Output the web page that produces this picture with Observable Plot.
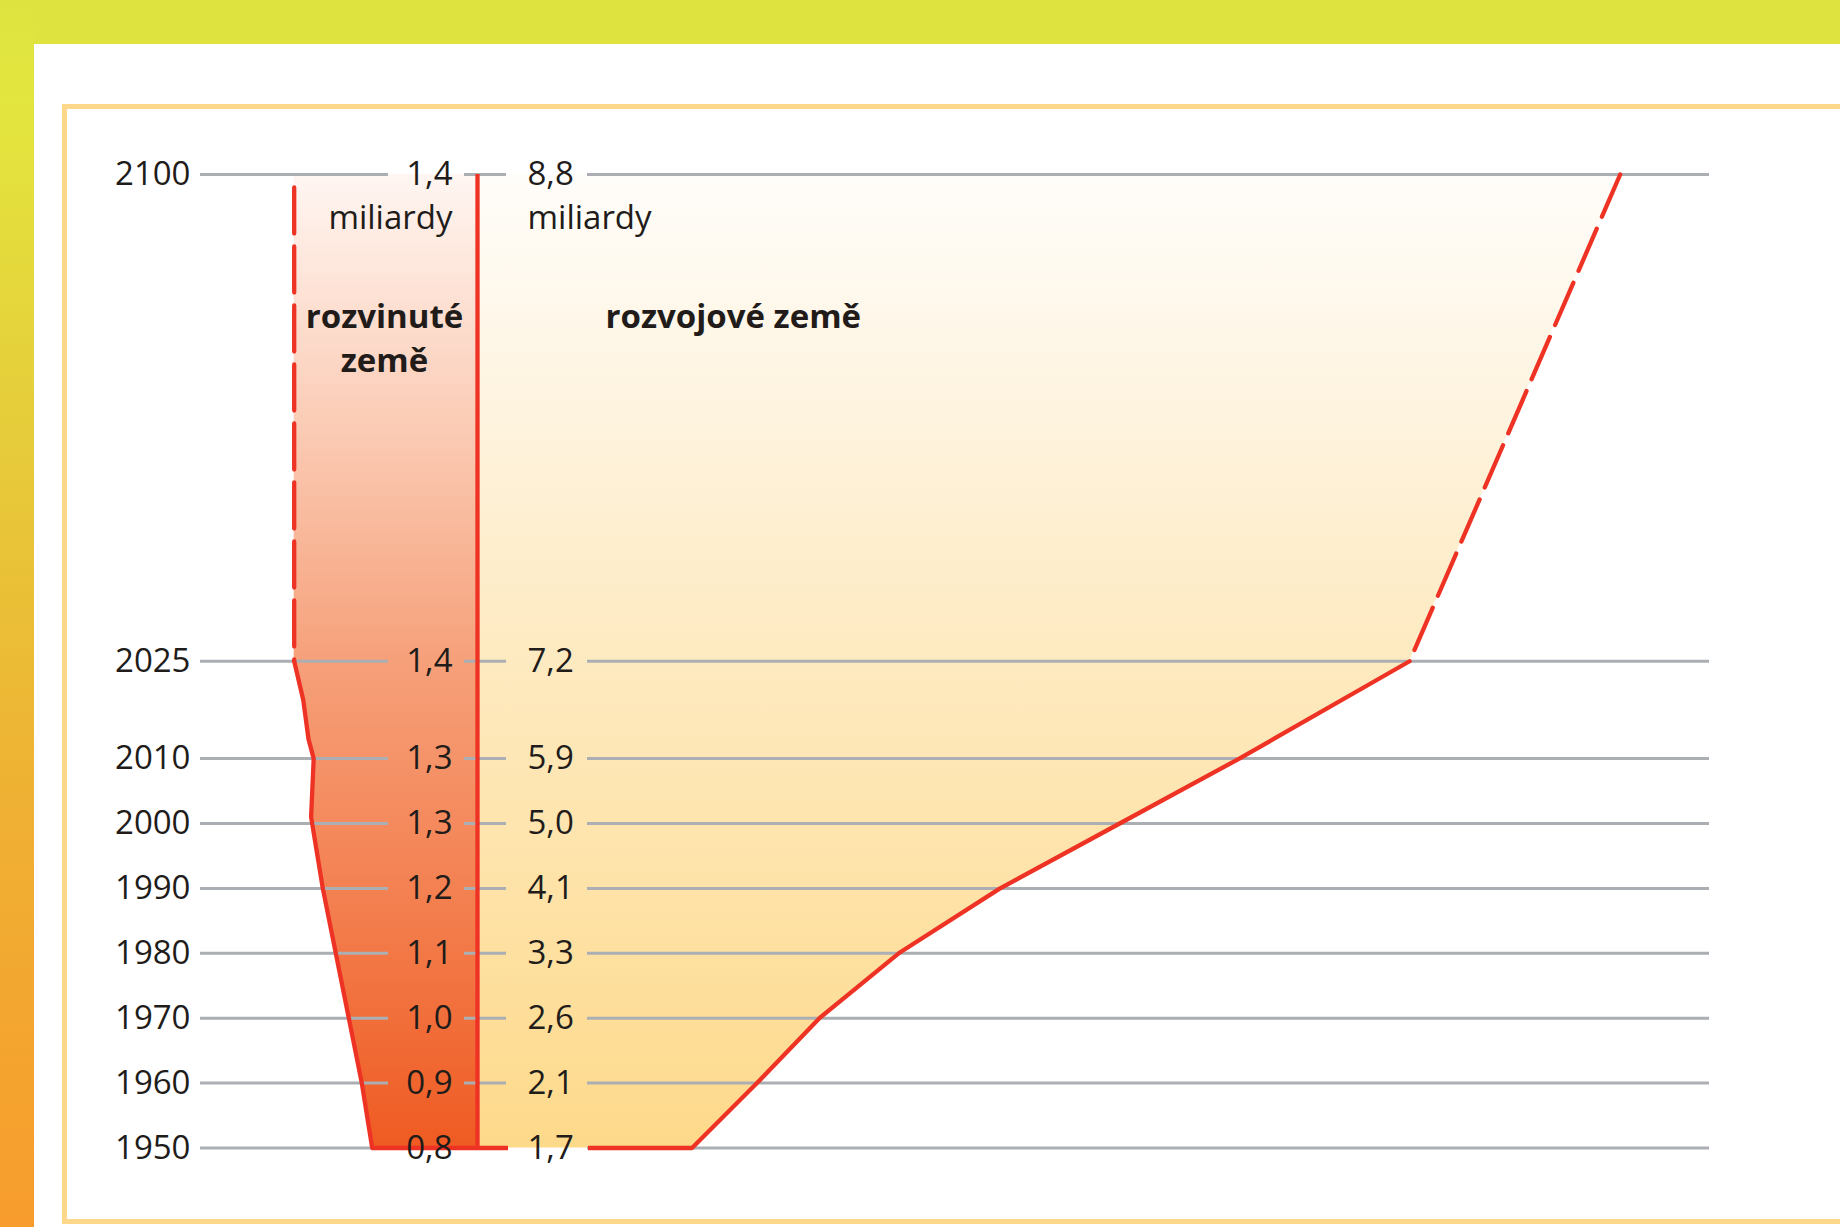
<!DOCTYPE html>
<html>
<head>
<meta charset="utf-8">
<script src="https://cdn.jsdelivr.net/npm/d3@7"></script>
<script src="https://cdn.jsdelivr.net/npm/@observablehq/plot@0.6"></script>
<style>
  html, body { margin: 0; padding: 0; background: #ffffff; }
  #page { position: relative; width: 1840px; height: 1227px; overflow: hidden; background: #ffffff; }
  #topbar { position: absolute; left: 0; top: 0; width: 1840px; height: 44px; background: #dee33f; }
  #leftbar { position: absolute; left: 0; top: 0; width: 34px; height: 1227px;
    background: linear-gradient(to bottom, #dee33f 0%, #e3e63e 8%, #e6cc3a 35%, #efb133 65%, #f79c2d 100%); }
  #frame { position: absolute; left: 62px; top: 104px; width: 1800px; height: 1120px;
    border: 5px solid #fed88a; box-sizing: border-box; }
  #chart { position: absolute; left: 0; top: 0; }
  #chart svg { background: transparent !important; }
</style>
</head>
<body>
<div id="page">
  <div id="topbar"></div>
  <div id="leftbar"></div>
  <div id="frame"></div>
  <div id="chart"></div>
</div>
<script>
// ---- data (billions of people) ----
const years = [1950, 1960, 1970, 1980, 1990, 2000, 2010, 2025, 2100];
const developedLabels = ["0,8", "0,9", "1,0", "1,1", "1,2", "1,3", "1,3", "1,4", "1,4"];
const developingLabels = ["1,7", "2,1", "2,6", "3,3", "4,1", "5,0", "5,9", "7,2", "8,8"];

// outline of the "developed countries" shape as drawn (left side)
const developedYears = [1950, 1960, 1970, 1980, 1990, 2001, 2010, 2013, 2019, 2025];
const developedValues = [0.81, 0.89, 0.99, 1.09, 1.19, 1.28, 1.26, 1.30, 1.34, 1.41];
const developedProjYears = [2025, 2100];
const developedProjValues = [1.41, 1.41];

// outline of the "developing countries" shape as drawn (right side)
const developingYears = [1950, 1960, 1970, 1980, 1990, 2000, 2010, 2025];
const developingValues = [1.65, 2.15, 2.63, 3.24, 4.02, 4.94, 5.86, 7.17];
const developingProjYears = [2025, 2100];
const developingProjValues = [7.17, 8.79];

const unitLabel = "miliardy";
const developedTitle = ["rozvinuté", "země"];
const developingTitle = "rozvojové země";

// ---- tables built from the arrays ----
const dev = developedYears.map((y, i) => ({year: y, v: developedValues[i]}));
const devProj = developedProjYears.map((y, i) => ({year: y, v: developedProjValues[i]}));
const devFill = dev.concat(devProj.slice(1));
const dvg = developingYears.map((y, i) => ({year: y, v: developingValues[i]}));
const dvgProj = developingProjYears.map((y, i) => ({year: y, v: developingProjValues[i]}));
const dvgFill = dvg.concat(dvgProj.slice(1));
const rows = years.map((y, i) => ({year: y, dl: developedLabels[i], gl: developingLabels[i]}));

// layout helpers: convert a pixel offset from the centre line into data units
const X0 = 477, K = 130;
const off = px => (px - X0) / K;

const RED = "#ee3224", GRID = "#abafb3", INK = "#211c1a";
const FONT = "'Open Sans', sans-serif";
const FS = 33;
const SW = 4.3;

const segs = [[off(200), off(388)], [off(464), off(506)], [off(587), off(1709)]];
const gridRows = [];
for (const y of years) for (const [a, b] of segs) gridRows.push({year: y, x1: a, x2: b});

const plot = Plot.plot({
  width: 1840,
  height: 1227,
  style: {background: "transparent", fontFamily: FONT},
  x: {domain: [-3, 10], range: [X0 - 3 * K, X0 + 10 * K], axis: null},
  y: {domain: [1950, 2100], range: [1147.5, 174], axis: null},
  marks: [
    // filled shapes
    Plot.areaX(devFill, {y: "year", x1: d => -d.v, x2: 0, fill: "url(#gDev)"}),
    Plot.areaX(dvgFill, {y: "year", x1: 0, x2: "v", fill: "url(#gDvg)"}),
    // broken gridlines
    Plot.ruleY(gridRows, {y: "year", x1: "x1", x2: "x2", stroke: GRID, strokeWidth: 3}),
    // red outlines
    Plot.line(dev, {x: d => -d.v, y: "year", stroke: RED, strokeWidth: SW}),
    Plot.line(devProj.slice().reverse(), {x: d => -d.v, y: "year", stroke: RED, strokeWidth: SW,
      strokeDasharray: "46,13", strokeDashoffset: 46}),
    Plot.line(dvg, {x: "v", y: "year", stroke: RED, strokeWidth: SW}),
    Plot.line(dvgProj.slice().reverse(), {x: "v", y: "year", stroke: RED, strokeWidth: SW,
      strokeDasharray: "46,13"}),
    Plot.ruleX([0], {y1: 1950, y2: 2100, stroke: RED, strokeWidth: SW}),
    Plot.ruleY([dev[0]], {y: "year", x1: d => -d.v, x2: off(508), stroke: RED, strokeWidth: SW}),
    Plot.ruleY([dvg[0]], {y: "year", x1: off(588), x2: "v", stroke: RED, strokeWidth: SW}),
    // labels
    Plot.text(rows, {x: off(190), y: "year", text: d => String(d.year), textAnchor: "end",
      fontSize: FS, fill: INK, fontFamily: FONT}),
    Plot.text(rows, {x: off(452), y: "year", text: "dl", textAnchor: "end",
      fontSize: FS, fill: INK, fontFamily: FONT}),
    Plot.text(rows, {x: off(527), y: "year", text: "gl", textAnchor: "start",
      fontSize: FS, fill: INK, fontFamily: FONT}),
    Plot.text([2100], {x: off(452), y: d => d, dy: 44, text: [unitLabel], textAnchor: "end",
      fontSize: FS, fill: INK, fontFamily: FONT}),
    Plot.text([2100], {x: off(527), y: d => d, dy: 44, text: [unitLabel], textAnchor: "start",
      fontSize: FS, fill: INK, fontFamily: FONT}),
    Plot.text([2100], {x: off(384), y: d => d, dy: 143, text: [developedTitle[0]], textAnchor: "middle",
      fontSize: FS, fontWeight: "bold", fill: INK, fontFamily: FONT}),
    Plot.text([2100], {x: off(384), y: d => d, dy: 187, text: [developedTitle[1]], textAnchor: "middle",
      fontSize: FS, fontWeight: "bold", fill: INK, fontFamily: FONT}),
    Plot.text([2100], {x: off(605), y: d => d, dy: 143, text: [developingTitle], textAnchor: "start",
      fontSize: FS, fontWeight: "bold", fill: INK, fontFamily: FONT})
  ]
});

// gradients
const ys = plot.scale("y");
const yTop = ys.apply(2100), yBot = ys.apply(1950);
const svg = d3.select(plot);
const defs = svg.insert("defs", ":first-child");
function grad(id, stops) {
  const g = defs.append("linearGradient").attr("id", id)
    .attr("gradientUnits", "userSpaceOnUse")
    .attr("x1", 0).attr("x2", 0).attr("y1", yTop).attr("y2", yBot);
  for (const [o, c] of stops) g.append("stop").attr("offset", o).attr("stop-color", c);
}
grad("gDev", [[0, "#fff6f2"], [0.25, "#fbcdb7"], [0.5, "#f6a07a"], [0.75, "#f37f4f"], [1, "#ef5b22"]]);
grad("gDvg", [[0, "#fffdfa"], [0.25, "#fef3de"], [0.5, "#feeac0"], [0.75, "#fee2a6"], [1, "#fdd98a"]]);

document.getElementById("chart").appendChild(plot);
</script>
</body>
</html>
